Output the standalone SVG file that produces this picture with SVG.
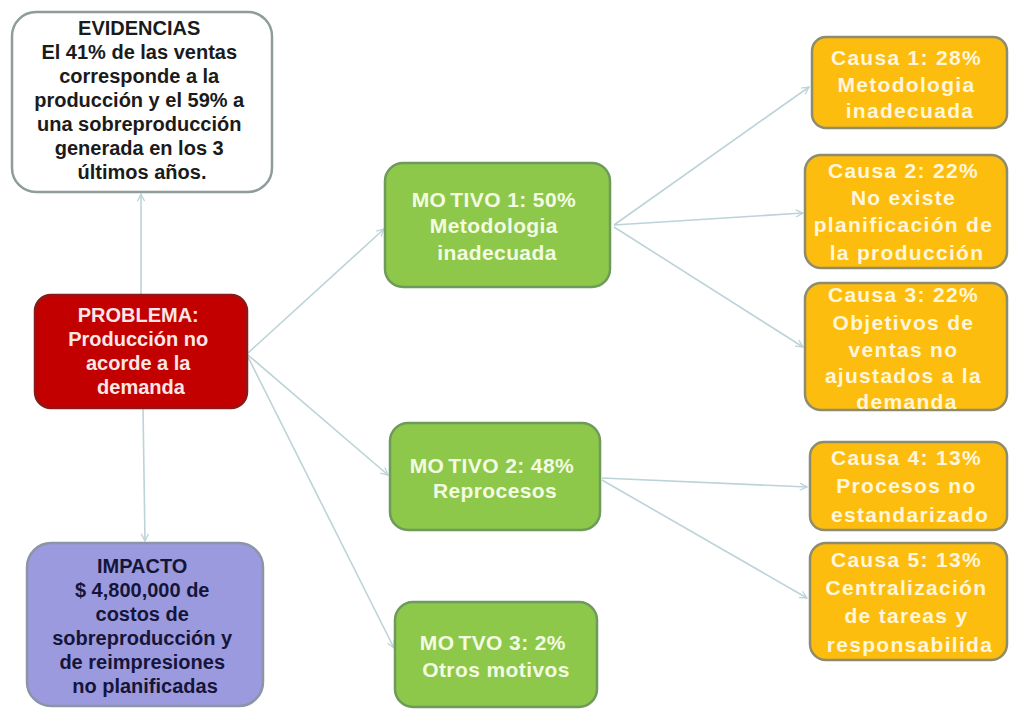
<svg xmlns="http://www.w3.org/2000/svg" width="1009" height="711" viewBox="0 0 1009 711">
  <style>
    text { font-family: "Liberation Sans", Arial, sans-serif; font-weight: bold; text-anchor: middle; }
    .box { stroke-width: 2.5; }
    .ev { fill: #ffffff; stroke: #8e9c9c; }
    .pr { fill: #c20000; stroke: #8a1a1a; }
    .im { fill: #9c9ade; stroke: #8c94a8; }
    .mo { fill: #8dc84a; stroke: #6e9a5a; }
    .ca { fill: #fdbd0e; stroke: #8e8c6e; }
    .t-dark { font-size: 20px; fill: #1b1b1b; }
    .t-pr { font-size: 20px; fill: #fbe6e6; }
    .t-im { font-size: 20px; fill: #15153a; }
    .t-mo { font-size: 21px; fill: #f3fbe2; letter-spacing: 0.4px; }
    .t-ca { font-size: 21px; fill: #fff6dc; letter-spacing: 1.3px; }
    .link { fill: none; stroke: #bcd3d8; stroke-width: 1.6; marker-end: url(#head); }
  </style>
  <defs>
    <marker id="head" viewBox="0 0 10 10" refX="9" refY="5" markerWidth="9" markerHeight="9" markerUnits="userSpaceOnUse" orient="auto">
      <path d="M1,1 L9,5 L1,9" fill="none" stroke="#bcd3d8" stroke-width="1.4"/>
    </marker>
  </defs>

  <rect width="1009" height="711" fill="#ffffff"/>

  <!-- connectors -->
  <g id="connectors">
    <line class="link" x1="141" y1="295" x2="141" y2="194"/>
    <line class="link" x1="143" y1="408" x2="145" y2="541"/>
    <line class="link" x1="248" y1="353" x2="384" y2="229"/>
    <line class="link" x1="248" y1="355" x2="388" y2="475"/>
    <line class="link" x1="248" y1="357" x2="394" y2="648"/>
    <line class="link" x1="614" y1="225" x2="809" y2="87"/>
    <line class="link" x1="614" y1="225" x2="803" y2="213"/>
    <line class="link" x1="614" y1="227" x2="803" y2="347"/>
    <line class="link" x1="602" y1="478" x2="807" y2="487"/>
    <line class="link" x1="602" y1="480" x2="807" y2="598"/>
  </g>

  <!-- left column -->
  <g id="evidencias">
    <rect class="box ev" x="12" y="12" width="260" height="180" rx="24"/>
    <text class="t-dark">
      <tspan x="142" y="35">EVIDENCIAS</tspan>
      <tspan x="142" y="59">El 41% de las ventas</tspan>
      <tspan x="142" y="83">corresponde a la</tspan>
      <tspan x="142" y="107">producción y el 59% a</tspan>
      <tspan x="142" y="131">una sobreproducción</tspan>
      <tspan x="142" y="155">generada en los 3</tspan>
      <tspan x="142" y="179">últimos años.</tspan>
    </text>
  </g>

  <g id="problema">
    <rect class="box pr" x="35" y="295" width="212" height="113" rx="16"/>
    <text class="t-pr">
      <tspan x="141" y="322">PROBLEMA:</tspan>
      <tspan x="141" y="346">Producción no</tspan>
      <tspan x="141" y="370">acorde a la</tspan>
      <tspan x="141" y="394">demanda</tspan>
    </text>
  </g>

  <g id="impacto">
    <rect class="box im" x="27" y="543" width="236" height="163" rx="24"/>
    <text class="t-im">
      <tspan x="145" y="573">IMPACTO</tspan>
      <tspan x="145" y="597">$ 4,800,000 de</tspan>
      <tspan x="145" y="621">costos de</tspan>
      <tspan x="145" y="645">sobreproducción y</tspan>
      <tspan x="145" y="669">de reimpresiones</tspan>
      <tspan x="145" y="693">no planificadas</tspan>
    </text>
  </g>

  <!-- motives -->
  <g id="motivo1">
    <rect class="box mo" x="385" y="163" width="225" height="124" rx="18"/>
    <text class="t-mo">
      <tspan x="497" y="207">MO<tspan dx="4">TIVO 1: 50%</tspan></tspan>
      <tspan x="497" y="233">Metodologia</tspan>
      <tspan x="497" y="260">inadecuada</tspan>
    </text>
  </g>

  <g id="motivo2">
    <rect class="box mo" x="390" y="423" width="210" height="107" rx="18"/>
    <text class="t-mo">
      <tspan x="495" y="473">MO<tspan dx="4">TIVO 2: 48%</tspan></tspan>
      <tspan x="495" y="498">Reprocesos</tspan>
    </text>
  </g>

  <g id="motivo3">
    <rect class="box mo" x="395" y="602" width="202" height="105" rx="18"/>
    <text class="t-mo">
      <tspan x="496" y="650">MO<tspan dx="4">TVO 3: 2%</tspan></tspan>
      <tspan x="496" y="677">Otros motivos</tspan>
    </text>
  </g>

  <!-- causes -->
  <g id="causa1">
    <rect class="box ca" x="812" y="37" width="195" height="91" rx="14"/>
    <text class="t-ca">
      <tspan x="910" y="65">Causa 1: 28%</tspan>
      <tspan x="910" y="92">Metodologia</tspan>
      <tspan x="910" y="118">inadecuada</tspan>
    </text>
  </g>

  <g id="causa2">
    <rect class="box ca" x="805" y="155" width="202" height="113" rx="16"/>
    <text class="t-ca">
      <tspan x="907" y="178">Causa 2: 22%</tspan>
      <tspan x="907" y="205">No existe</tspan>
      <tspan x="907" y="232">planificación de</tspan>
      <tspan x="907" y="260">la producción</tspan>
    </text>
  </g>

  <g id="causa3">
    <rect class="box ca" x="805" y="283" width="202" height="127" rx="16"/>
    <text class="t-ca">
      <tspan x="907" y="302">Causa 3: 22%</tspan>
      <tspan x="907" y="330">Objetivos de</tspan>
      <tspan x="907" y="357">ventas no</tspan>
      <tspan x="907" y="383">ajustados a la</tspan>
      <tspan x="907" y="409">demanda</tspan>
    </text>
  </g>

  <g id="causa4">
    <rect class="box ca" x="810" y="442" width="197" height="88" rx="14"/>
    <text class="t-ca">
      <tspan x="910" y="465">Causa 4: 13%</tspan>
      <tspan x="910" y="493">Procesos no</tspan>
      <tspan x="910" y="522">estandarizado</tspan>
    </text>
  </g>

  <g id="causa5">
    <rect class="box ca" x="810" y="543" width="197" height="117" rx="16"/>
    <text class="t-ca">
      <tspan x="910" y="567">Causa 5: 13%</tspan>
      <tspan x="910" y="595">Centralización</tspan>
      <tspan x="910" y="623">de tareas y</tspan>
      <tspan x="910" y="652">responsabilida</tspan>
    </text>
  </g>
</svg>
